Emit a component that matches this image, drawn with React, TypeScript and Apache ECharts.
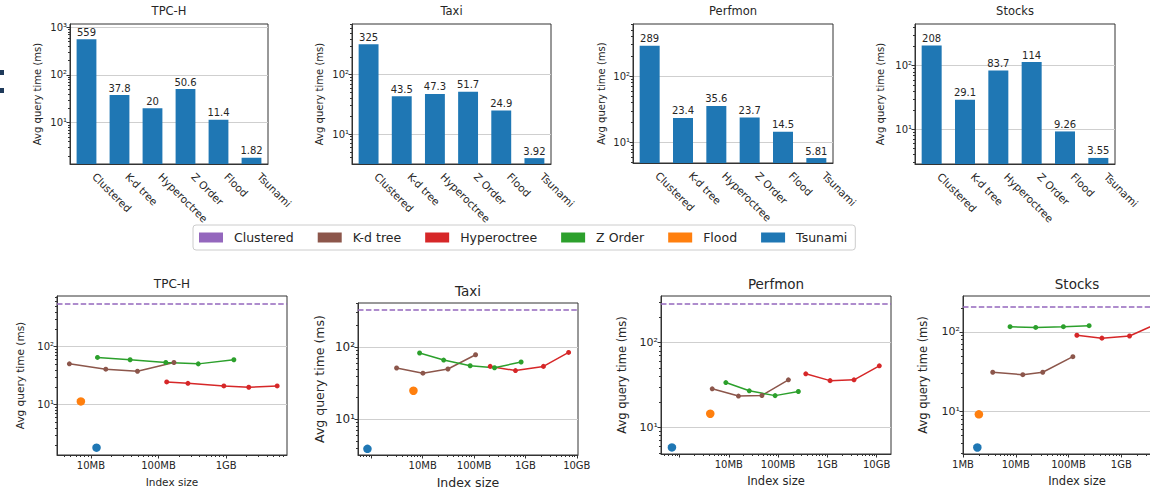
import React, { useEffect, useRef } from 'react';
import * as echarts from 'echarts';

// ---------- data ----------
const methods = ['Clustered', 'K-d tree', 'Hyperoctree', 'Z Order', 'Flood', 'Tsunami'];
const methodColors = ['#9467bd', '#8c564b', '#d62728', '#2ca02c', '#ff7f0e', '#1f77b4'];
const datasets = ['TPC-H', 'Taxi', 'Perfmon', 'Stocks'];

// top row: average query time (ms) per method
const tpchBars = [559, 37.8, 20, 50.6, 11.4, 1.82];
const taxiBars = [325, 43.5, 47.3, 51.7, 24.9, 3.92];
const perfmonBars = [289, 23.4, 35.6, 23.7, 14.5, 5.81];
const stocksBars = [208, 29.1, 83.7, 114, 9.26, 3.55];

// bottom row: [index size (MB), avg query time (ms)]
const tpchKdTree = [[4.8, 50.7], [16.6, 41], [48.8, 37.8], [169, 53.5]];
const tpchZOrder = [[12.5, 65.3], [38, 59.6], [128, 53.5], [387, 50.6], [1300, 59.6]];
const tpchHyperoctree = [[132, 24.7], [272, 23.4], [925, 21.1], [2160, 20], [5680, 21.1]];
const tpchFlood = [[7.1, 11.4]];
const tpchTsunami = [[12.1, 1.82]];

const taxiKdTree = [[3.1, 51.3], [10.1, 43.5], [31, 49.7], [107, 78.2]];
const taxiZOrder = [[8.7, 82.6], [25.6, 66.1], [84, 55.1], [250, 51.7], [824, 62.1]];
const taxiHyperoctree = [[206, 54], [640, 47.3], [2240, 54], [6930, 84.2]];
const taxiFlood = [[6.6, 24.9]];
const taxiTsunami = [[0.84, 3.92]];

const perfmonKdTree = [[4.6, 28.5], [15.7, 23.4], [47, 23.8], [162, 36.4]];
const perfmonZOrder = [[8.7, 33.8], [26, 27], [87, 23.7], [258, 26.5]];
const perfmonHyperoctree = [[365, 42.8], [1135, 35.6], [3480, 36.4], [11350, 53.2]];
const perfmonFlood = [[4.2, 14.5]];
const perfmonTsunami = [[0.7, 5.81]];

const stocksKdTree = [[3.66, 31.2], [13.6, 29.1], [32.5, 31.2], [121, 49]];
const stocksZOrder = [[7.8, 116.5], [23.9, 114], [80, 116.5], [246, 120]];
const stocksHyperoctree = [[144, 90.9], [430, 83.7], [1435, 89.1], [4500, 125]];
const stocksFlood = [[2.0, 9.26]];
const stocksTsunami = [[1.87, 3.55]];

// axis limits
const topYMin = [1.35, 3.12, 4.89, 2.85];
const topYMax = [1175, 716, 615, 452];
const botYMin = [1.36, 3.22, 4.86, 2.94];
const botYMax = [748, 406, 354, 283];
const botXMin = [3.15, 0.55, 0.42, 1];
const botXMax = [7940, 10550, 19600, 21000];

// x tick labels (MB)
const sizeTickValues = [1, 10, 100, 1000, 10000];
const sizeTickLabels = ['1MB', '10MB', '100MB', '1GB', '10GB'];
const labelledSizes = [
  [10, 100, 1000, 10000],
  [10, 100, 1000, 10000],
  [10, 100, 1000, 10000],
  [1, 10, 100, 1000],
];

// ---------- helpers ----------
const SUP: Record<string, string> = { '0': '⁰', '1': '¹', '2': '²', '3': '³', '4': '⁴', '5': '⁵' };
const near = (a: number, b: number) => Math.abs(Math.log10(a) - Math.log10(b)) < 1e-6;
const isPow10 = (v: number) => {
  const l = Math.log10(v);
  return Math.abs(l - Math.round(l)) < 1e-6;
};
const powLabel = (v: number) =>
  isPow10(v) ? '10' + String(Math.round(Math.log10(v))).split('').map((c) => SUP[c] || c).join('') : '';
const majors = (min: number, max: number) => {
  const out: number[] = [];
  for (let e = Math.floor(Math.log10(min)); e <= Math.ceil(Math.log10(max)); e++) {
    const v = Math.pow(10, e);
    if (v >= min && v <= max) out.push(v);
  }
  return out;
};
const minors = (min: number, max: number) => {
  const out: number[] = [];
  for (let e = Math.floor(Math.log10(min)) - 1; e <= Math.ceil(Math.log10(max)); e++) {
    for (let k = 2; k <= 9; k++) {
      const v = k * Math.pow(10, e);
      if (v >= min && v <= max) out.push(v);
    }
  }
  return out;
};

const FONT = 'DejaVu Sans';
const TXT = '#262626';
const SPINE = '#333333';
const GRIDLINE = '#cfcfcf';

const topGrids = [
  { left: 70, top: 24, width: 198, height: 140 },
  { left: 352, top: 24, width: 199, height: 140 },
  { left: 633, top: 24, width: 200, height: 139 },
  { left: 915, top: 24, width: 200, height: 140 },
];
const bottomGrids = [
  { left: 57, top: 296, width: 230, height: 159 },
  { left: 358, top: 303, width: 220, height: 152 },
  { left: 661, top: 296, width: 230, height: 158 },
  { left: 963, top: 296, width: 228, height: 158 },
];
const topNameGap = [28, 28, 26.5, 30];
const botNameGap = [32, 32, 33, 34];
const botNameSize = [10.5, 12.5, 11.5, 11.5];
const botTitleSize = [12, 13.5, 13.5, 13.5];
const botTitleTop = [278, 284, 277, 277];

function buildOption() {
  const barsAll = [tpchBars, taxiBars, perfmonBars, stocksBars];
  const lines = [
    { kd: tpchKdTree, z: tpchZOrder, h: tpchHyperoctree, f: tpchFlood, t: tpchTsunami, c: tpchBars[0] },
    { kd: taxiKdTree, z: taxiZOrder, h: taxiHyperoctree, f: taxiFlood, t: taxiTsunami, c: taxiBars[0] },
    { kd: perfmonKdTree, z: perfmonZOrder, h: perfmonHyperoctree, f: perfmonFlood, t: perfmonTsunami, c: perfmonBars[0] },
    { kd: stocksKdTree, z: stocksZOrder, h: stocksHyperoctree, f: stocksFlood, t: stocksTsunami, c: stocksBars[0] },
  ];

  const grid: any[] = [];
  const xAxis: any[] = [];
  const yAxis: any[] = [];
  const series: any[] = [];
  const title: any[] = [];

  const gridStyle = {
    show: true,
    borderColor: SPINE,
    borderWidth: 1,
    backgroundColor: 'transparent',
    containLabel: false,
    outerBoundsMode: 'none',
  };

  topGrids.forEach((g) => grid.push({ ...g, ...gridStyle }));
  bottomGrids.forEach((g) => grid.push({ ...g, ...gridStyle }));

  // top x (category) axes 0-3
  for (let i = 0; i < 4; i++) {
    xAxis.push({
      type: 'category',
      gridIndex: i,
      position: 'bottom',
      data: methods,
      axisLine: { lineStyle: { color: SPINE } },
      axisTick: { alignWithLabel: true, length: 3.5, lineStyle: { color: SPINE } },
      axisLabel: {
        rotate: -45,
        interval: 0,
        fontSize: 10.5,
        fontFamily: FONT,
        color: TXT,
        margin: 3,
        padding: [0, 0, 0, 11],
      },
    });
  }
  // bottom x (log) axes 4-7
  for (let i = 0; i < 4; i++) {
    const mj = majors(botXMin[i], botXMax[i]);
    xAxis.push({
      type: 'log',
      logBase: 10,
      gridIndex: 4 + i,
      position: 'bottom',
      min: botXMin[i],
      max: botXMax[i],
      axisLine: { show: true, onZero: false, lineStyle: { color: SPINE } },
      axisTick: { show: true, length: 3.5, lineStyle: { color: SPINE }, customValues: mj },
      axisLabel: {
        customValues: mj.filter((v) => labelledSizes[i].some((s) => near(s, v))),
        fontSize: 10,
        fontFamily: FONT,
        color: TXT,
        margin: 5,
        formatter: (v: number) => {
          const k = sizeTickValues.findIndex((s) => near(s, v));
          return k >= 0 && labelledSizes[i].some((s) => near(s, v)) ? sizeTickLabels[k] : '';
        },
      },
      splitLine: { show: false },
      name: 'Index size',
      nameLocation: 'middle',
      nameGap: 21,
      nameTextStyle: { fontSize: botNameSize[i], fontFamily: FONT, color: TXT },
    });
  }
  // bottom x minor tick axes 8-11
  for (let i = 0; i < 4; i++) {
    xAxis.push({
      type: 'log',
      logBase: 10,
      gridIndex: 4 + i,
      position: 'bottom',
      min: botXMin[i],
      max: botXMax[i],
      axisLine: { show: false, onZero: false },
      axisTick: { show: true, length: 2, lineStyle: { color: SPINE }, customValues: minors(botXMin[i], botXMax[i]) },
      axisLabel: { show: false },
      splitLine: { show: false },
    });
  }

  const yAxisMain = (gi: number, min: number, max: number, gap: number, nameSize: number, labelSize: number) => {
    const mj = majors(min, max);
    return {
      type: 'log',
      logBase: 10,
      gridIndex: gi,
      position: 'left',
      min,
      max,
      axisLine: { show: true, onZero: false, lineStyle: { color: SPINE } },
      axisTick: { show: true, length: 3.5, lineStyle: { color: SPINE }, customValues: mj },
      axisLabel: { customValues: mj, formatter: powLabel, fontSize: labelSize, fontFamily: FONT, color: TXT, margin: 3 },
      splitLine: { show: true, lineStyle: { color: GRIDLINE, width: 1.2 } },
      name: 'Avg query time (ms)',
      nameLocation: 'middle',
      nameGap: gap,
      nameTextStyle: { fontSize: nameSize, fontFamily: FONT, color: TXT },
    };
  };
  const yAxisMinor = (gi: number, min: number, max: number) => ({
    type: 'log',
    logBase: 10,
    gridIndex: gi,
    position: 'left',
    min,
    max,
    axisLine: { show: false, onZero: false },
    axisTick: { show: true, length: 2, lineStyle: { color: SPINE }, customValues: minors(min, max) },
    axisLabel: { show: false },
    splitLine: { show: false },
  });

  for (let i = 0; i < 4; i++) yAxis.push(yAxisMain(i, topYMin[i], topYMax[i], topNameGap[i], 10, 10));
  for (let i = 0; i < 4; i++)
    yAxis.push(yAxisMain(4 + i, botYMin[i], botYMax[i], botNameGap[i], botNameSize[i], botNameSize[i] - 0.5));
  for (let i = 0; i < 4; i++) yAxis.push(yAxisMinor(i, topYMin[i], topYMax[i]));
  for (let i = 0; i < 4; i++) yAxis.push(yAxisMinor(4 + i, botYMin[i], botYMax[i]));

  // bars
  for (let i = 0; i < 4; i++) {
    series.push({
      type: 'bar',
      name: datasets[i] + ' avg',
      xAxisIndex: i,
      yAxisIndex: i,
      data: barsAll[i],
      barWidth: '60%',
      itemStyle: { color: '#1f77b4' },
      label: { show: true, position: 'top', distance: 2, fontSize: 10, fontFamily: FONT, color: TXT, formatter: '{c}' },
    });
  }

  // bottom lines
  for (let i = 0; i < 4; i++) {
    const L = lines[i];
    const xi = 4 + i;
    const yi = 4 + i;
    series.push({
      type: 'line',
      name: 'Clustered',
      xAxisIndex: xi,
      yAxisIndex: yi,
      data: [],
      color: methodColors[0],
      markLine: {
        silent: true,
        symbol: ['none', 'none'],
        label: { show: false },
        lineStyle: { color: methodColors[0], type: [5.5, 2.4], width: 1.5 },
        data: [{ yAxis: L.c }],
      },
    });
    const lineSeries = (name: string, color: string, data: number[][]) => ({
      type: 'line',
      name,
      xAxisIndex: xi,
      yAxisIndex: yi,
      data,
      color,
      symbol: 'circle',
      symbolSize: 5,
      showSymbol: true,
      lineStyle: { color, width: 1.5 },
      itemStyle: { color, borderWidth: 0 },
    });
    series.push(lineSeries('K-d tree', methodColors[1], L.kd));
    series.push(lineSeries('Hyperoctree', methodColors[2], L.h));
    series.push(lineSeries('Z Order', methodColors[3], L.z));
    series.push({
      type: 'scatter', name: 'Flood', xAxisIndex: xi, yAxisIndex: yi, data: L.f,
      symbolSize: 8.5, color: methodColors[4], itemStyle: { color: methodColors[4], opacity: 1 },
    });
    series.push({
      type: 'scatter', name: 'Tsunami', xAxisIndex: xi, yAxisIndex: yi, data: L.t,
      symbolSize: 8.5, color: methodColors[5], itemStyle: { color: methodColors[5], opacity: 1 },
    });
  }

  // titles
  for (let i = 0; i < 4; i++) {
    const g = topGrids[i];
    title.push({
      text: datasets[i],
      left: g.left + g.width / 2,
      top: 5,
      textAlign: 'center',
      padding: 0,
      textStyle: { fontSize: 11.5, fontWeight: 'normal', fontFamily: FONT, color: TXT },
    });
  }
  for (let i = 0; i < 4; i++) {
    const g = bottomGrids[i];
    title.push({
      text: datasets[i],
      left: g.left + g.width / 2,
      top: botTitleTop[i],
      textAlign: 'center',
      padding: 0,
      textStyle: { fontSize: botTitleSize[i], fontWeight: 'normal', fontFamily: FONT, color: TXT },
    });
  }

  return {
    animation: false,
    backgroundColor: '#ffffff',
    textStyle: { fontFamily: FONT },
    title,
    grid,
    xAxis,
    yAxis,
    series,
    legend: {
      data: methods.map((m) => ({ name: m })),
      icon: 'rect',
      left: 193,
      top: 225,
      orient: 'horizontal',
      itemWidth: 24,
      itemHeight: 10,
      itemGap: 24,
      padding: [6, 8, 6, 6],
      borderColor: '#cccccc',
      borderWidth: 1,
      borderRadius: 3,
      selectedMode: false,
      itemStyle: { borderWidth: 0, opacity: 1 },
      textStyle: { fontSize: 12.5, fontFamily: FONT, color: TXT, padding: [0, 0, 0, 6] },
    },
    graphic: [
      { type: 'rect', left: 0, top: 70, shape: { width: 4, height: 5 }, style: { fill: '#1f3a5a' } },
      { type: 'rect', left: 0, top: 88, shape: { width: 4, height: 5 }, style: { fill: '#1f3a5a' } },
    ],
  };
}

export default function App() {
  const ref = useRef<HTMLDivElement>(null);
  useEffect(() => {
    if (!ref.current) return;
    const chart = echarts.init(ref.current, undefined, { renderer: 'svg' });
    chart.setOption(buildOption() as any);
    return () => chart.dispose();
  }, []);
  return (
    <div
      ref={ref}
      style={{ position: 'fixed', left: 0, top: 0, width: 1150, height: 491, background: '#fff' }}
    />
  );
}
